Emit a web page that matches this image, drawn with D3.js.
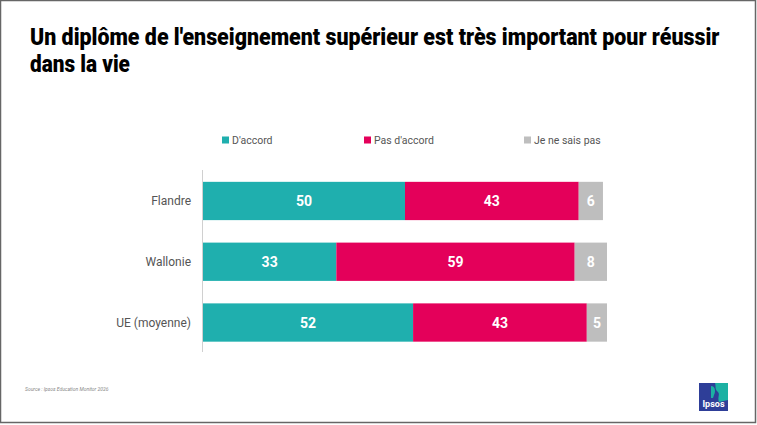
<!DOCTYPE html>
<html>
<head>
<meta charset="utf-8">
<script src="https://cdn.jsdelivr.net/npm/d3@7"></script>
<style>
  html, body { margin: 0; padding: 0; background: #fff; }
  svg { display: block; }
</style>
</head>
<body>
<svg id="chart" width="757" height="425"></svg>
<script>
'use strict';

// Chart data
var categories = ['Flandre', 'Wallonie', 'UE (moyenne)'],
    seriesNames = ["D'accord", "Pas d'accord", 'Je ne sais pas'],
    agree = [50, 33, 52],
    disagree = [43, 59, 43],
    dontKnow = [6, 8, 5];

var title = ["Un diplôme de l'enseignement supérieur est très important pour réussir", 'dans la vie'],
    source = 'Source : Ipsos Education Monitor 2026';

var colors = ['#1FAFAE', '#E4005A', '#BEBEBE'];

var svg = d3.select('#chart');

// Frame
svg.append('rect')
    .attr('x', 0.5).attr('y', 0.5)
    .attr('width', 755).attr('height', 422)
    .attr('fill', 'none')
    .attr('stroke', '#666')
    .attr('stroke-width', 1.5);

// Title: squeeze horizontally to get the condensed look
var titleWidths = [690, 100];
title.forEach(function (t, i) {
    var g = svg.append('g');
    var txt = g.append('text')
        .attr('x', 0)
        .attr('y', 0)
        .attr('font-family', 'Roboto, sans-serif')
        .attr('font-weight', 900)
        .attr('font-size', 24)
        .attr('fill', '#000')
        .text(t);
    var sx = titleWidths[i] / txt.node().getComputedTextLength();
    g.attr('transform', 'translate(30,' + (45 + i * 27) + ') scale(' + sx + ',1)');
});

// Stack the series
var rows = categories.map(function (c, i) {
    return { cat: c, values: [agree[i], disagree[i], dontKnow[i]] };
});
var stack = d3.stack()
    .keys([0, 1, 2])
    .value(function (d, k) { return d.values[k]; });
var series = stack(rows);

var x = d3.scaleLinear().domain([0, 100]).range([203, 607]);
var y = d3.scaleBand().domain(categories).range([171.5, 352]).paddingInner(0.37).paddingOuter(0.17);

// Vertical axis line
svg.append('line')
    .attr('x1', 202.5).attr('x2', 202.5)
    .attr('y1', 170).attr('y2', 352)
    .attr('stroke', '#d0d0d0')
    .attr('stroke-width', 1);

// Category labels
svg.append('g')
    .selectAll('text')
    .data(categories)
    .join('text')
    .attr('x', 191)
    .attr('y', function (d) { return y(d) + y.bandwidth() / 2; })
    .attr('dy', '0.35em')
    .attr('text-anchor', 'end')
    .attr('font-family', 'Roboto, sans-serif')
    .attr('font-size', 12)
    .attr('fill', '#555')
    .text(function (d) { return d; });

// Bars
var layers = svg.append('g')
    .selectAll('g')
    .data(series)
    .join('g')
    .attr('fill', function (d, i) { return colors[i]; });

layers.selectAll('rect')
    .data(function (d) { return d; })
    .join('rect')
    .attr('x', function (d) { return x(d[0]); })
    .attr('y', function (d) { return y(d.data.cat); })
    .attr('width', function (d) { return x(d[1]) - x(d[0]); })
    .attr('height', y.bandwidth());

// Value labels
layers.selectAll('text')
    .data(function (d) { return d; })
    .join('text')
    .attr('x', function (d) { return (x(d[0]) + x(d[1])) / 2; })
    .attr('y', function (d) { return y(d.data.cat) + y.bandwidth() / 2; })
    .attr('dy', '0.36em')
    .attr('text-anchor', 'middle')
    .attr('font-family', 'Roboto, sans-serif')
    .attr('font-weight', 700)
    .attr('font-size', 14)
    .attr('fill', '#fff')
    .text(function (d) { return d[1] - d[0]; });

// Legend
var legendX = [222, 364, 524];
var legend = svg.append('g')
    .selectAll('g')
    .data(seriesNames)
    .join('g')
    .attr('transform', function (d, i) { return 'translate(' + legendX[i] + ',140)'; });

legend.append('rect')
    .attr('x', 0).attr('y', -3.5)
    .attr('width', 7).attr('height', 7)
    .attr('fill', function (d, i) { return colors[i]; });

legend.append('text')
    .attr('x', 10)
    .attr('y', 0)
    .attr('dy', '0.36em')
    .attr('font-family', 'Roboto, sans-serif')
    .attr('font-size', 10.5)
    .attr('fill', '#555')
    .text(function (d) { return d; });

// Source
svg.append('text')
    .attr('x', 25)
    .attr('y', 391)
    .attr('font-family', 'Roboto, sans-serif')
    .attr('font-style', 'italic')
    .attr('font-size', 5)
    .attr('fill', '#888')
    .text(source);

// Ipsos logo
var logo = svg.append('g').attr('transform', 'translate(699,383)');
logo.append('rect')
    .attr('width', 29).attr('height', 28)
    .attr('fill', '#2E3E98');
logo.append('path')
    .attr('d', 'M16,0 H29 V17 L20,19 C18,14 22,11 18,8 C16,6 17,3 16,0 Z')
    .attr('fill', '#1CB1A3');
logo.append('path')
    .attr('d', 'M12,3 C16,3 17,8 15,12 L14,15 H12 Z')
    .attr('fill', '#1CB1A3');
logo.append('text')
    .attr('x', 14.5)
    .attr('y', 24)
    .attr('text-anchor', 'middle')
    .attr('font-family', 'Roboto, sans-serif')
    .attr('font-weight', 700)
    .attr('font-size', 9)
    .attr('fill', '#fff')
    .text('Ipsos');
</script>
</body>
</html>
